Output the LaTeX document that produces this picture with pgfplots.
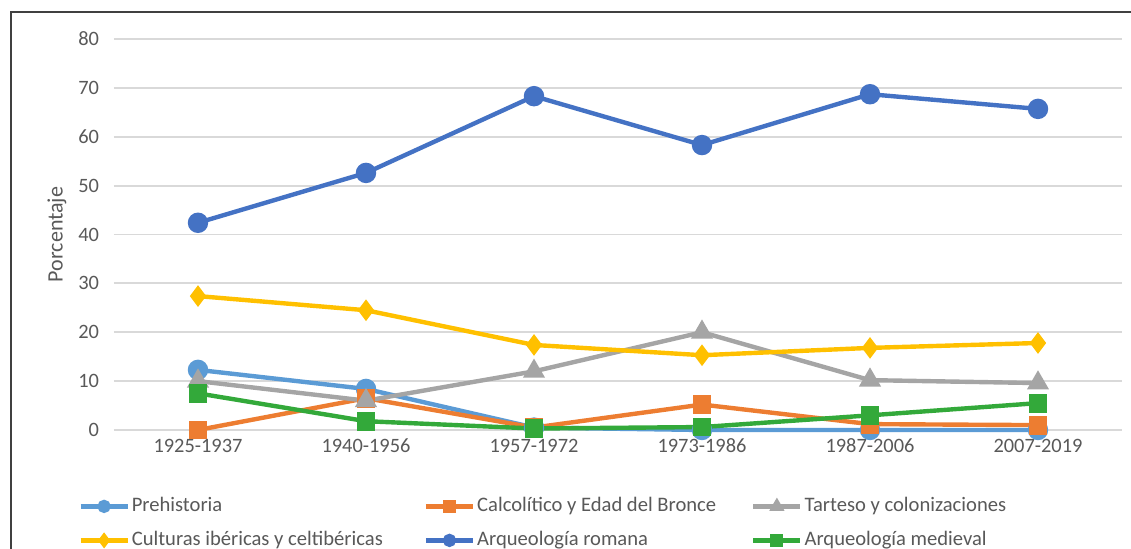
\documentclass[border=0pt]{standalone}
\usepackage{pgfplots}
\pgfplotsset{compat=1.18}
\usepackage{fontspec}
\setmainfont{Carlito}
\definecolor{cPre}{HTML}{5B9BD5}
\definecolor{cCal}{HTML}{ED7D31}
\definecolor{cTar}{HTML}{A5A5A5}
\definecolor{cCul}{HTML}{FFC000}
\definecolor{cRom}{HTML}{4472C4}
\definecolor{cMed}{HTML}{33A93A}
\definecolor{txt}{HTML}{595959}
\definecolor{gridc}{HTML}{D9D9D9}
\begin{document}
\begin{tikzpicture}
\useasboundingbox (-57pt,-59.5pt) rectangle (508.5pt,215pt);
\begin{axis}[
  scale only axis, width=504pt, height=195.5pt,
  xmin=-0.5, xmax=5.5, ymin=0, ymax=80,
  clip=false,
  xtick={0,1,2,3,4,5},
  xticklabels={1925-1937,1940-1956,1957-1972,1973-1986,1987-2006,2007-2019},
  ytick={0,10,...,80},
  xmajorgrids=false, ymajorgrids=true,
  y grid style={color=gridc, line width=0.9pt},
  axis line style={draw=none}, major tick length=0pt,
  tick label style={font=\fontsize{10.2}{12}\selectfont, text=txt},
  yticklabel style={xshift=-4pt},
  xticklabel style={yshift=-1pt},
  /pgf/number format/assume math mode=true,
  ylabel={Porcentaje},
  every axis y label/.style={at={(axis description cs:-0.0565,0.5)}, rotate=90, anchor=center,
    font=\fontsize{11}{13}\selectfont, text=txt},
  every axis plot/.append style={line width=2.2pt},
  legend columns=3,
  legend style={draw=none, at={(0,0)}, anchor=north west, xshift=-18pt, yshift=-32.5pt,
    font=\fontsize{10.3}{12}\selectfont, text=txt, inner sep=0pt, column sep=0pt, row sep=6pt,
    nodes={inner sep=1pt, text height=7pt, text depth=2pt}},
  legend image code/.code={
    \draw[#1, mark size=2.2pt, mark repeat=2, mark phase=2] plot coordinates {(0pt,0pt) (11.75pt,0pt) (23.5pt,0pt)};
  },
]
\addplot[cPre, mark=*, mark size=4pt] coordinates {(0,12.3) (1,8.4) (2,0.5) (3,0) (4,0) (5,0)};
\addlegendentry{\makebox[145pt][l]{Prehistoria}}
\addplot[cCal, mark=square*, mark size=3.6pt] coordinates {(0,0) (1,6.5) (2,0.5) (3,5.2) (4,1.2) (5,1.0)};
\addlegendentry{\makebox[136pt][l]{Calcolítico y Edad del Bronce}}
\addplot[cTar, mark=triangle*, mark size=4.2pt] coordinates {(0,10) (1,6) (2,12) (3,20) (4,10.2) (5,9.6)};
\addlegendentry{\makebox[110pt][l]{Tarteso y colonizaciones}}
\addplot[cCul, mark=diamond*, mark size=3.6pt] coordinates {(0,27.4) (1,24.5) (2,17.4) (3,15.3) (4,16.8) (5,17.8)};
\addlegendentry{\makebox[145pt][l]{Culturas ibéricas y celtibéricas}}
\addplot[cRom, mark=*, mark size=4pt] coordinates {(0,42.4) (1,52.6) (2,68.3) (3,58.3) (4,68.7) (5,65.7)};
\addlegendentry{\makebox[136pt][l]{Arqueología romana}}
\addplot[cMed, mark=square*, mark size=3.6pt] coordinates {(0,7.5) (1,1.8) (2,0.3) (3,0.6) (4,3.0) (5,5.5)};
\addlegendentry{\makebox[110pt][l]{Arqueología medieval}}
\end{axis}
\draw[line width=1pt, color=black!75] (-51.5pt,-59.5pt) -- (-51.5pt,208.75pt) -- (508.5pt,208.75pt);
\end{tikzpicture}
\end{document}
